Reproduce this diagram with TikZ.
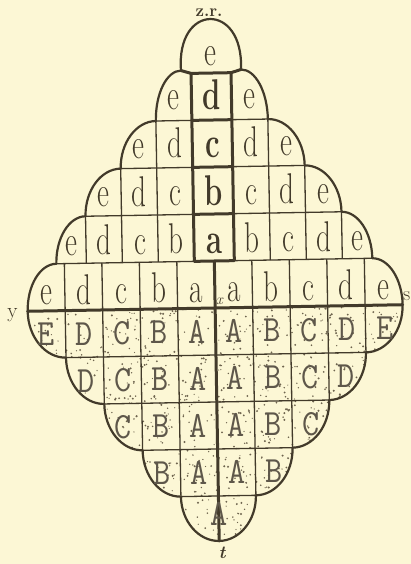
\documentclass[tikz,border=0pt]{standalone}
\usetikzlibrary{calc}
\definecolor{PaperClr}{RGB}{252,247,213}
\definecolor{InkClr}{RGB}{66,58,42}
\definecolor{DotClr}{RGB}{110,100,78}
\newcommand\quarc[3]{.. controls ($#1!0.55!#2$) and ($#3!0.55!#2$) .. #3}
\newcommand\lowpath{\quarc{(402.5,308)}{(402.5,355)}{(365,355)}
 \quarc{(365,355)}{(365,402)}{(327.5,402)}
 \quarc{(327.5,402)}{(327.5,449)}{(290,449)}
 \quarc{(290,449)}{(290,496)}{(252.5,496)}
 \quarc{(252.5,496)}{(252.5,541)}{(215,541)}
 \quarc{(215,541)}{(177.5,541)}{(177.5,496)}
 \quarc{(177.5,496)}{(140,496)}{(140,449)}
 \quarc{(140,449)}{(102.5,449)}{(102.5,402)}
 \quarc{(102.5,402)}{(65,402)}{(65,355)}
 \quarc{(65,355)}{(27.5,355)}{(27.5,308)}}
\tikzset{
 cellline/.style={line width=1.3pt,color=InkClr},
 rimline/.style={line width=2.2pt,color=InkClr,line join=round},
 heavyline/.style={line width=3pt,color=InkClr,line cap=round,line join=round},
 lc/.style={font=\fontsize{43}{43}\selectfont,text=InkClr,inner sep=0pt,anchor=base,xscale=0.68},
 lcb/.style={lc,font=\fontsize{43}{43}\selectfont\bfseries},
 uc/.style={font=\fontsize{37}{37}\selectfont\ttfamily,text=InkClr!85,inner sep=0pt,xscale=0.9},
 tag/.style={text=InkClr,inner sep=0pt}
}
\begin{document}
\begin{tikzpicture}[x=1pt,y=-1pt]
\useasboundingbox (0,0) rectangle (411,564);
\fill[PaperClr] (0,0) rectangle (411,564);

\begin{scope}[rotate around={1:(215,300)}]
\begin{scope}
\clip (27.5,308) -- (402.5,308) \lowpath -- cycle;
\pgfmathsetseed{5}
\foreach \k in {1,...,1150}{
 \pgfmathsetmacro\px{27+376*rnd}
 \pgfmathsetmacro\py{308+233*rnd}
 \fill[DotClr] (\px,\py) circle ({0.55+0.6*rnd});}
\end{scope}

\foreach \y/\d in {120/56,167/92,214/128,261/158,355/150,402/112.5,449/75,496/37.5}
 \draw[cellline] ({215-\d},\y) -- ({215+\d},\y);
\foreach \d/\y in {56/120,92/167,128/214}
 \draw[cellline] ({215-\d},\y) -- ({215-\d},261) ({215+\d},\y) -- ({215+\d},261);
\foreach \d/\y in {37.5/496,75/449,112.5/402,150/355}
 \draw[cellline] ({215-\d},261) -- ({215-\d},\y) ({215+\d},261) -- ({215+\d},\y);

\draw[heavyline] (27.5,308) -- (402.5,308);
\draw[heavyline] (215,261) -- (215,541);
\draw[heavyline] (185,70) -- (195,73) -- (235,73) -- (245,70);
\draw[heavyline] (195,73) -- (195,261) -- (235,261) -- (235,73)
 (195,120) -- (235,120) (195,167) -- (235,167) (195,214) -- (235,214);

\draw[rimline] (185,70) .. controls (181,2) and (249,2) .. (245,70)
 \quarc{(245,70)}{(271,70)}{(271,120)}
 \quarc{(271,120)}{(307,120)}{(307,167)}
 \quarc{(307,167)}{(343,167)}{(343,214)}
 \quarc{(343,214)}{(373,214)}{(373,261)}
 \quarc{(373,261)}{(402.5,261)}{(402.5,308)}
 \lowpath
 \quarc{(27.5,308)}{(27.5,261)}{(57,261)}
 \quarc{(57,261)}{(57,214)}{(87,214)}
 \quarc{(87,214)}{(87,167)}{(123,167)}
 \quarc{(123,167)}{(123,120)}{(159,120)}
 \quarc{(159,120)}{(159,70)}{(185,70)} -- cycle;

\node[lc] (top) at (215,65) {e};
\foreach \t/\y [count=\i] in {d/109,c/157,b/205,a/253}
 \node[lcb] (mid\i) at (215,\y) {\t};
\foreach \t/\d/\y [count=\i] in {e/38/109,d/38/157,e/74/157,c/38/205,d/74/205,e/110/205,b/38/253,c/74/253,d/110/253,e/143/253}
 {\node[lc] (left\i) at ({215-\d},\y) {\t};
  \node[lc] (right\i) at ({215+\d},\y) {\t};}
\foreach \t/\d [count=\i] in {a/18.75,b/56.25,c/93.75,d/131.25,e/168.75}
 {\node[lc] (waistL\i) at ({215-\d},302) {\t};
  \node[lc] (waistR\i) at ({215+\d},302) {\t};}
\foreach \t/\d/\y [count=\i] in {A/18.75/331.5,B/56.25/331.5,C/93.75/331.5,D/131.25/331.5,E/170/331.5,A/18.75/378.5,B/56.25/378.5,C/93.75/378.5,D/130/378.5,A/18.75/425.5,B/56.25/425.5,C/93.75/425.5,A/18.75/472.5,B/56.25/472.5}
 {\node[uc] (lowL\i) at ({215-\d},\y) {\t};
  \node[uc] (lowR\i) at ({215+\d},\y) {\t};}
\node[uc] (foot) at (215,514) {A};
\end{scope}

\node[tag,font=\fontsize{17}{17}\selectfont\bfseries] (zr) at (209,13) {z.r.};
\node[tag,font=\fontsize{21}{21}\selectfont,anchor=base] (ylab) at (12.5,317) {y};
\node[tag,font=\fontsize{20}{20}\selectfont,anchor=base west] (slab) at (403,300) {s};
\node[tag,font=\fontsize{15}{15}\selectfont\itshape,anchor=base west] (xlab) at (216,304) {x};
\node[tag,font=\fontsize{18}{18}\selectfont\bfseries\itshape,anchor=base] (tlab) at (222,558) {t};
\end{tikzpicture}
\end{document}
